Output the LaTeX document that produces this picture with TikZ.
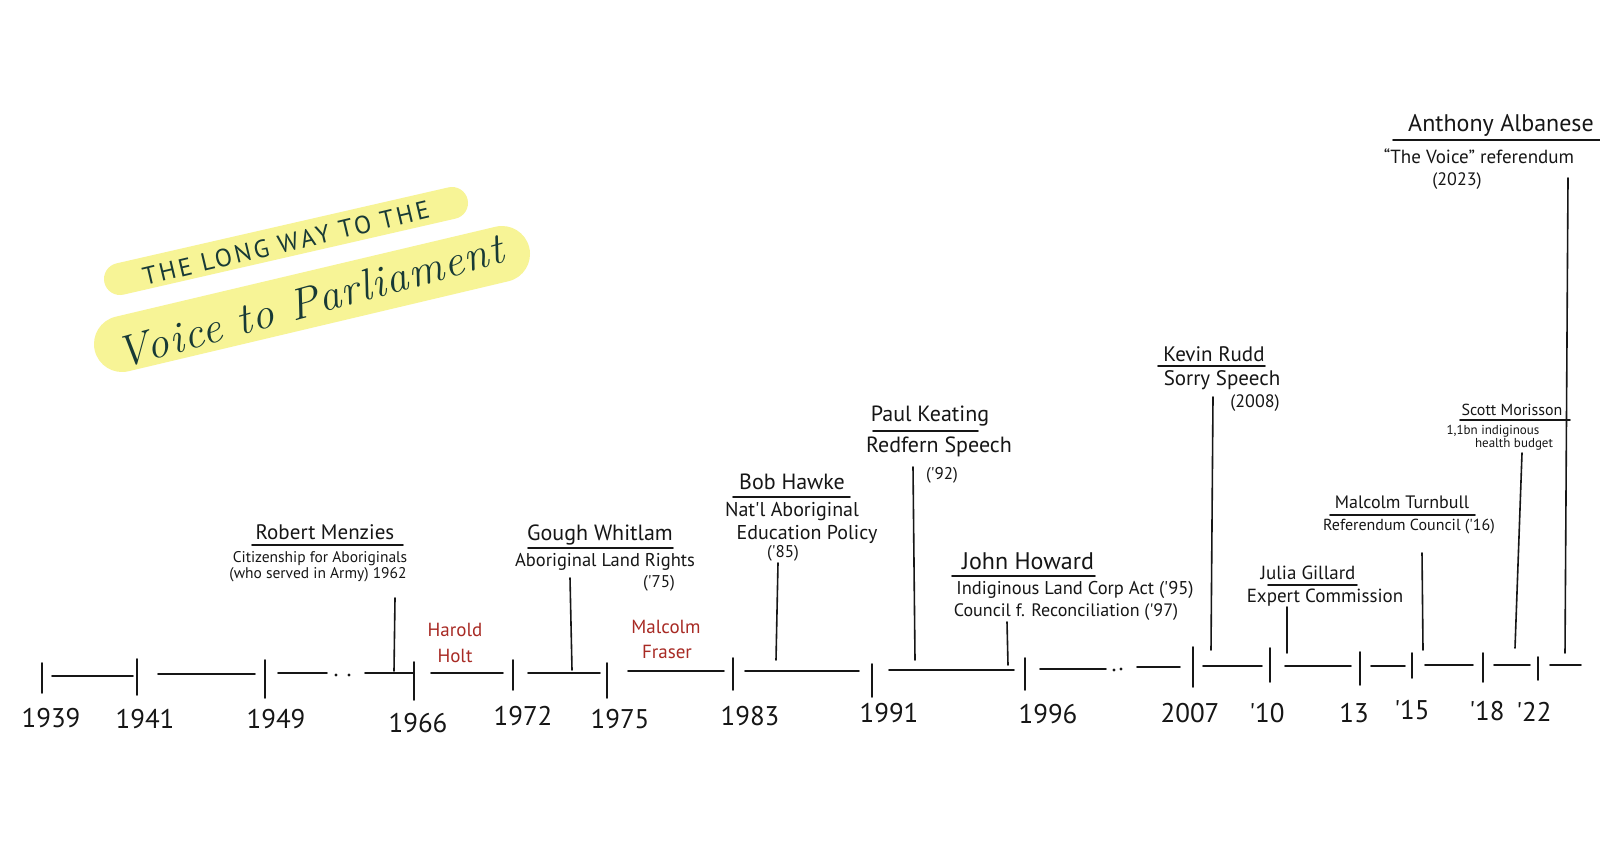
\documentclass[tikz,border=0pt]{standalone}
\usepackage{fontspec}
\newfontfamily\hand{PT Sans}
\newfontfamily\handcaps[LetterSpace=12]{PT Sans}
\newfontfamily\titlescript[LetterSpace=3]{Latin Modern Roman}
\definecolor{ink}{RGB}{22,22,22}
\definecolor{pmred}{RGB}{168,42,36}
\definecolor{hilite}{RGB}{247,244,150}
\definecolor{titleink}{RGB}{24,58,54}
\begin{document}
\begin{tikzpicture}[x=1pt,y=-1pt,
  pen/.style={line width=1.6pt,draw=ink,line cap=round},
  lbl/.style={inner sep=0pt,text=ink,font=\hand\fontsize{#1}{#1}\selectfont},
  lbl/.default=16,
  pmname/.style={inner sep=0pt,text=pmred,font=\hand\fontsize{19}{19}\selectfont},
  yearlbl/.style={inner sep=0pt,text=ink,font=\hand\fontsize{27}{27}\selectfont},
  band/.style={draw=hilite,line cap=round},
  t1/.style={inner sep=0pt,rotate=13.4,text=titleink,font=\handcaps\fontsize{25}{25}\selectfont},
  t2/.style={inner sep=0pt,rotate=15.5,text=titleink,font=\titlescript\itshape\fontsize{44}{44}\selectfont}]
\fill[white] (0,0) rectangle (1600,848);
\useasboundingbox (0,0) rectangle (1600,848);

% ---------- title ----------
\coordinate (b1a) at (120,279);
\coordinate (b1b) at (452,203);
\coordinate (b2a) at (122,344);
\coordinate (b2b) at (502,254);
\draw[band,line width=32pt] (b1a) -- (b1b);
\draw[band,line width=56pt] (b2a) -- (b2b);
\node[t1] (title1) at (286,243) {THE LONG WAY TO THE};
\node[t2] (title2) at (310,301) {Voice to Parliament};

% ---------- timeline ticks ----------
\foreach \n/\x/\ya/\yb in {t39/42/663/693, t41/137/659/695, t49/265/660/698, t66/414/662/700,
  t72/513/660/690, t75/607/663/698, t83/733/658/690, t91/872/664/697, t96/1025/658/690,
  t07/1193/647/687, t10/1270/648/682, t13/1360/652/685, t15/1412/653/678, t18/1483/653/682, t22/1538/657/680}{
  \coordinate (\n a) at (\x,\ya);
  \coordinate (\n b) at (\x,\yb);
  \draw[pen] (\n a) -- (\n b);
}
% ---------- timeline segments ----------
\foreach \n/\xa/\xb/\y in {s1/52/133/676, s2/158/255/674, s3/278/327/673, s4/365/413/673,
  s5/431/503/673, s6/528/600/673, s7/628/724/671, s8/745/859/671, s9/889/1014/670,
  s10/1040/1106/669, s11/1137/1180/667, s12/1203/1262/666, s13/1285/1351/666,
  s14/1371/1405/666, s15/1425/1473/665, s16/1494/1530/665, s17/1550/1581/665}{
  \coordinate (\n a) at (\xa,\y);
  \coordinate (\n b) at (\xb,\y);
  \draw[pen] (\n a) -- (\n b);
}
% dots
\foreach \n/\x/\y in {d1/336/675, d2/349/675, d3/1114/670, d4/1121/669}{
  \fill[ink] (\x,\y) circle (1.7pt) coordinate (\n);
}
% ---------- years ----------
\foreach \n/\x/\y/\t in {y39/51/718/1939, y41/145/719/1941, y49/276/719/1949, y66/418/723/1966,
  y72/523/716/1972, y75/620/719/1975, y83/750/716/1983, y91/889/713/1991, y96/1048/714/1996,
  y07/1190/713/2007, y10/1267/713/'10, y13/1354/713/13, y15/1412/710/'15, y18/1487/711/'18, y22/1534/712/'22}{
  \node[yearlbl] (\n) at (\x,\y) {\t};
}

% ---------- Menzies ----------
\node[lbl=21] (menz) at (325,532) {Robert Menzies};
\coordinate (menzUa) at (252,545); \coordinate (menzUb) at (403,545);
\draw[pen] (menzUa) -- (menzUb);
\node[lbl=15.5] (menz1) at (320,559) {Citizenship for Aboriginals};
\node[lbl=15.5] (menz2) at (318,575) {(who served in Army) 1962};
\coordinate (menzTop) at (395,598); \coordinate (menzBot) at (394,671);
\draw[pen] (menzTop) -- (menzBot);

% ---------- Holt ----------
\node[pmname] (holt1) at (455,630) {Harold};
\node[pmname] (holt2) at (455,656) {Holt};

% ---------- Whitlam ----------
\node[lbl=22] (whit) at (600,535) {Gough Whitlam};
\coordinate (whitUa) at (528,548); \coordinate (whitUb) at (673,548);
\draw[pen] (whitUa) -- (whitUb);
\node[lbl=18.5] (whit1) at (605,562) {Aboriginal Land Rights};
\node[lbl=17] (whit2) at (659,583) {('75)};
\coordinate (whitTop) at (570,578); \coordinate (whitBot) at (572,670);
\draw[pen] (whitTop) -- (whitBot);

% ---------- Fraser ----------
\node[pmname] (fras1) at (666,627) {Malcolm};
\node[pmname] (fras2) at (667,652) {Fraser};

% ---------- Hawke ----------
\node[lbl=22] (hawk) at (792,482) {Bob Hawke};
\coordinate (hawkUa) at (733,497); \coordinate (hawkUb) at (850,497);
\draw[pen] (hawkUa) -- (hawkUb);
\node[lbl=20] (hawk1) at (792,512) {Nat'l Aboriginal};
\node[lbl=20] (hawk2) at (807,534) {Education Policy};
\node[lbl=17] (hawk3) at (783,553) {('85)};
\coordinate (hawkTop) at (778,563); \coordinate (hawkBot) at (776,660);
\draw[pen] (hawkTop) -- (hawkBot);

% ---------- Keating ----------
\node[lbl=22] (keat) at (930,416) {Paul Keating};
\coordinate (keatUa) at (873,431); \coordinate (keatUb) at (978,431);
\draw[pen] (keatUa) -- (keatUb);
\node[lbl=22] (keat1) at (939,447) {Redfern Speech};
\node[lbl=17] (keat2) at (942,475) {('92)};
\coordinate (keatTop) at (913,467); \coordinate (keatBot) at (915,660);
\draw[pen] (keatTop) -- (keatBot);

% ---------- Howard ----------
\node[lbl=24] (howa) at (1028,561) {John Howard};
\coordinate (howaUa) at (952,576); \coordinate (howaUb) at (1095,576);
\draw[pen] (howaUa) -- (howaUb);
\node[lbl=18.5] (howa1) at (1075,590) {Indiginous Land Corp Act ('95)};
\node[lbl=18] (howa2) at (1066,612) {Council f. Reconciliation ('97)};
\coordinate (howaTop) at (1007,622); \coordinate (howaBot) at (1008,665);
\draw[pen] (howaTop) -- (howaBot);

% ---------- Rudd ----------
\node[lbl=21] (rudd) at (1214,354) {Kevin Rudd};
\coordinate (ruddUa) at (1158,366); \coordinate (ruddUb) at (1265,366);
\draw[pen] (ruddUa) -- (ruddUb);
\node[lbl=21] (rudd1) at (1222,380) {Sorry Speech};
\node[lbl=18] (rudd2) at (1255,403) {(2008)};
\coordinate (ruddTop) at (1213,397); \coordinate (ruddBot) at (1211,650);
\draw[pen] (ruddTop) -- (ruddBot);

% ---------- Gillard ----------
\node[lbl=19] (gill) at (1308,573) {Julia Gillard};
\coordinate (gillUa) at (1268,585); \coordinate (gillUb) at (1357,585);
\draw[pen] (gillUa) -- (gillUb);
\node[lbl=19] (gill1) at (1325,598) {Expert Commission};
\coordinate (gillTop) at (1287,607); \coordinate (gillBot) at (1287,653);
\draw[pen] (gillTop) -- (gillBot);

% ---------- Turnbull ----------
\node[lbl=18] (turn) at (1402,502) {Malcolm Turnbull};
\coordinate (turnUa) at (1330,515); \coordinate (turnUb) at (1475,515);
\draw[pen] (turnUa) -- (turnUb);
\node[lbl=16] (turn1) at (1409,527) {Referendum Council ('16)};
\coordinate (turnTop) at (1422,553); \coordinate (turnBot) at (1423,650);
\draw[pen] (turnTop) -- (turnBot);

% ---------- Morisson ----------
\node[lbl=16] (mori) at (1512,410) {Scott Morisson};
\coordinate (moriUa) at (1460,420); \coordinate (moriUb) at (1570,420);
\draw[pen] (moriUa) -- (moriUb);
\node[lbl=13] (mori1) at (1493,431) {1,1bn indiginous};
\node[lbl=13] (mori2) at (1514,444) {health budget};
\coordinate (moriTop) at (1522,453); \coordinate (moriBot) at (1515,648);
\draw[pen] (moriTop) -- (moriBot);

% ---------- Albanese ----------
\node[lbl=24] (alba) at (1501,125) {Anthony Albanese};
\coordinate (albaUa) at (1393,140); \coordinate (albaUb) at (1600,140);
\draw[pen] (albaUa) -- (albaUb);
\node[lbl=19] (alba1) at (1479,156) {“The Voice” referendum};
\node[lbl=18] (alba2) at (1457,181) {(2023)};
\coordinate (albaTop) at (1568,178); \coordinate (albaBot) at (1565,653);
\draw[pen] (albaTop) -- (albaBot);
\end{tikzpicture}
\end{document}
